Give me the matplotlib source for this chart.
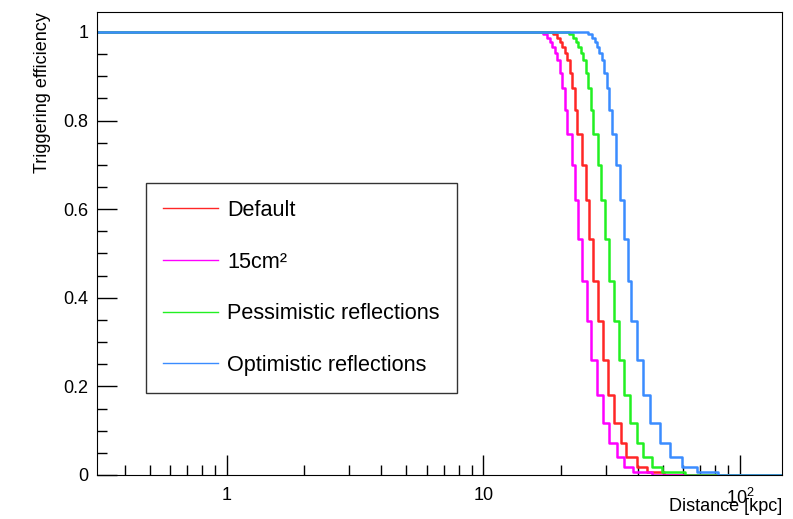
import matplotlib
matplotlib.use("Agg")
import matplotlib.pyplot as plt
from matplotlib.lines import Line2D
from matplotlib.ticker import FixedLocator, FixedFormatter, MultipleLocator

plt.rcParams['font.family'] = ['Liberation Sans', 'DejaVu Sans']
plt.rcParams['mathtext.fontset'] = 'custom'
plt.rcParams['mathtext.rm'] = 'Liberation Sans'
plt.rcParams['mathtext.default'] = 'regular'

# efficiency levels of the steps (shared by all curves)
eff_levels = [1, 0.9955, 0.9865, 0.9774, 0.965, 0.9526, 0.9368, 0.9074, 0.8736,
              0.824, 0.7698, 0.70, 0.621, 0.5316, 0.438, 0.3465, 0.2585, 0.1806,
              0.1174, 0.0722, 0.0406, 0.018, 0.0068, 0]

# distance [kpc] at which each curve drops to the next level
dist_default = [18.71, 19.40, 19.93, 20.28, 20.74, 21.21, 21.70, 22.19, 22.70, 23.21,
                24.27, 25.03, 25.85, 26.80, 28.03, 29.32, 30.66, 32.27, 34.27, 35.93,
                39.56, 43.28, 50.55]
dist_15cm2 = [17.11, 17.73, 18.21, 18.55, 18.97, 19.40, 19.84, 20.28, 20.74, 21.21,
              22.07, 22.73, 23.42, 24.27, 25.26, 26.25, 27.63, 29.15, 30.94, 33.06,
              35.39, 38.27, 45.39]
dist_pess = [21.60, 22.39, 23.00, 23.42, 23.95, 24.49, 25.05, 25.62, 26.20, 26.80,
             28.03, 28.72, 29.76, 30.99, 32.18, 33.84, 35.48, 37.25, 39.77, 41.75,
             45.26, 49.52, 61.04]
dist_opt = [25.48, 26.41, 27.13, 27.63, 28.26, 28.89, 29.55, 30.22, 30.91, 31.61,
            32.85, 34.05, 35.29, 36.58, 37.75, 39.56, 41.75, 44.58, 48.76, 53.35,
            59.26, 67.80, 82.08]

labels = ['Default', '15cm²', 'Pessimistic reflections', 'Optimistic reflections']
colors = ['#ff2626', '#ff00ff', '#22f022', '#3a8cff']
series = [dist_default, dist_15cm2, dist_pess, dist_opt]

xmin, xmax = 0.311, 146.0

fig = plt.figure(figsize=(7.93, 5.19), dpi=100)
ax = fig.add_axes([0.1223, 0.0848, 0.8638, 0.8921])

for d, c in zip(series, colors):
    xs = [xmin] + d + [xmax]
    ys = eff_levels + [0]
    ax.plot(xs, ys, drawstyle='steps-post', color=c, lw=1.8)

ax.set_xscale('log')
ax.set_xlim(xmin, xmax)
ax.set_ylim(0, 1.045)

ax.xaxis.set_major_locator(FixedLocator([1, 10, 100]))
ax.xaxis.set_major_formatter(FixedFormatter(['1', '10', '$10^{2}$']))
minors = [m * 10.0 ** e for e in (-1, 0, 1) for m in range(2, 10)]
ax.xaxis.set_minor_locator(FixedLocator([v for v in minors if xmin < v < xmax]))
ax.xaxis.set_minor_formatter(FixedFormatter([]))

ax.yaxis.set_major_locator(FixedLocator([0, 0.2, 0.4, 0.6, 0.8, 1.0]))
ax.yaxis.set_major_formatter(FixedFormatter(['0', '0.2', '0.4', '0.6', '0.8', '1']))
ax.yaxis.set_minor_locator(MultipleLocator(0.05))

ax.tick_params(which='both', direction='in', labelsize=13, width=1)
ax.tick_params(which='major', length=14.5)
ax.tick_params(which='minor', length=7.5)
ax.tick_params(axis='y', pad=6)
ax.tick_params(axis='x', pad=9)

ax.set_ylabel('Triggering efficiency', fontsize=13, loc='top')
ax.yaxis.set_label_coords(-0.067, 1.0)
ax.set_xlabel('Distance [kpc]', fontsize=13, loc='right')
ax.xaxis.set_label_coords(1.0, -0.05)

handles = [Line2D([0], [0], color=c, lw=1) for c in colors]
leg = ax.legend(handles, labels, loc='upper left', bbox_to_anchor=(0.0715, 0.631),
                borderaxespad=0, fontsize=15.6, frameon=True, fancybox=False,
                edgecolor='black', labelspacing=1.42, handlelength=2.56,
                handletextpad=0.42, borderpad=0.78)
leg.get_frame().set_linewidth(1.0)

fig.savefig('out.png', dpi=100)
